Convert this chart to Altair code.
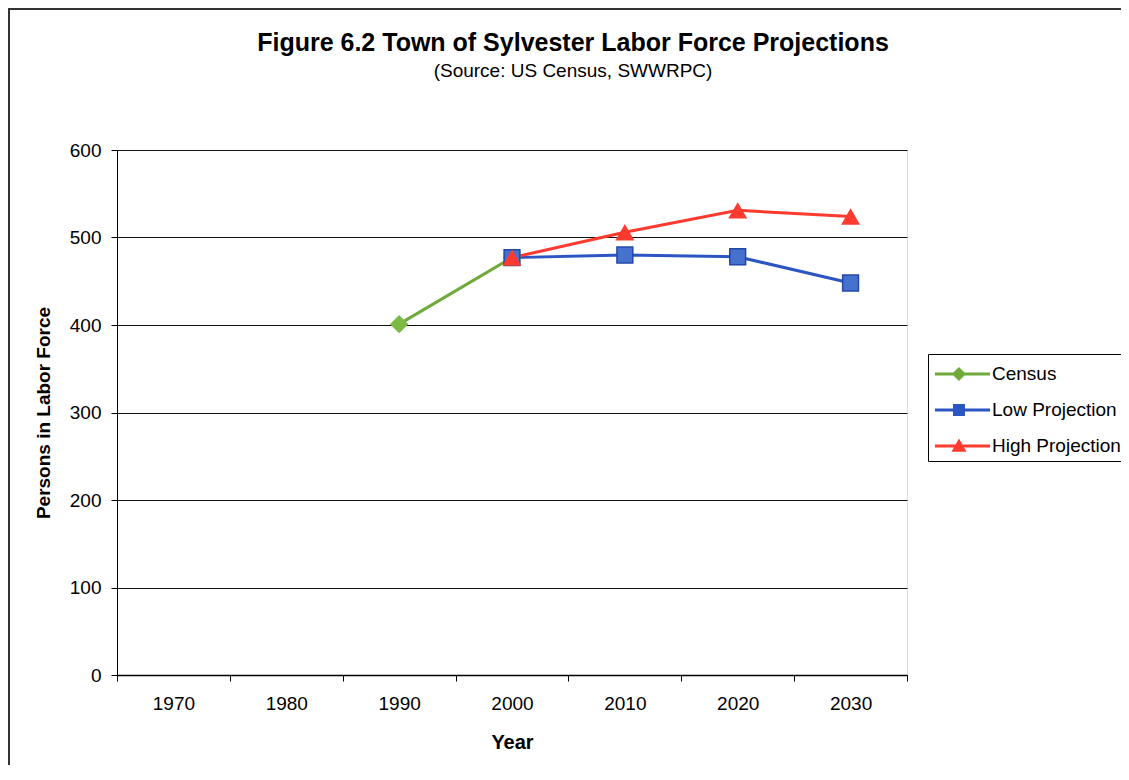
import altair as alt
import pandas as pd

years = ["1970", "1980", "1990", "2000", "2010", "2020", "2030"]
census_years = ["1990", "2000"]
census_values = [401, 477]
low_years = ["2000", "2010", "2020", "2030"]
low_values = [477, 480, 478, 448]
high_years = ["2000", "2010", "2020", "2030"]
high_values = [477, 506, 531, 524]
series_names = ["Census", "Low Projection", "High Projection"]
series_colors = ["#6FAA3A", "#2B55C2", "#FF3A2E"]
y_ticks = [0, 100, 200, 300, 400, 500, 600]

rows = []
for name, ys, vs in zip(series_names, [census_years, low_years, high_years],
                        [census_values, low_values, high_values]):
    for yr, v in zip(ys, vs):
        rows.append({"Year": yr, "Value": v, "Series": name})
df = pd.DataFrame(rows)

FONT = "Liberation Sans"
W, H = 790, 525

x_enc = alt.X("Year:O",
              scale=alt.Scale(type="band", domain=years, paddingInner=0, paddingOuter=0),
              axis=alt.Axis(title="Year", labelAngle=0, tickBand="extent", tickSize=6,
                            tickColor="black", domainColor="black", domainWidth=1.5,
                            labelFont=FONT, labelFontSize=19, labelColor="black",
                            labelPadding=13, titleFont=FONT, titleFontSize=20,
                            titleFontWeight="bold", titleColor="black", titlePadding=19,
                            grid=False))
y_enc = alt.Y("Value:Q",
              scale=alt.Scale(domain=[0, 600], nice=False),
              axis=alt.Axis(title="Persons in Labor Force", values=y_ticks, grid=True,
                            gridColor="#111111", gridWidth=1, tickSize=6, tickColor="black",
                            domainColor="black", labelFont=FONT, labelFontSize=19,
                            labelColor="black", labelPadding=10, titleFont=FONT,
                            titleFontSize=19, titleFontWeight="bold", titleColor="black",
                            titlePadding=16))

base = alt.Chart(df)

layers = []
# outer frame decoration
frame = alt.Chart(pd.DataFrame({"a": [0]})).mark_rect(
    fill=None, stroke="#333333", strokeWidth=2, clip=False
).encode(x=alt.value(-108), x2=alt.value(W + 260), y=alt.value(-141), y2=alt.value(H + 200))
layers.append(frame)

for name, col in zip(series_names, series_colors):
    layers.append(base.transform_filter(alt.datum.Series == name)
                  .mark_line(strokeWidth=3, color=col).encode(x=x_enc, y=y_enc))

layers.append(base.transform_filter(alt.datum.Series == "Census")
              .mark_point(shape="diamond", filled=True, size=340, color="#7DBA44", opacity=1)
              .encode(x=x_enc, y=y_enc))
layers.append(base.transform_filter(alt.datum.Series == "Low Projection")
              .mark_point(shape="square", filled=True, size=250, fill="#4671CC",
                          stroke="#2347A8", strokeWidth=1.5, opacity=1)
              .encode(x=x_enc, y=y_enc))
layers.append(base.transform_filter(alt.datum.Series == "High Projection")
              .mark_point(shape="triangle-up", filled=True, size=360, color="#FF3A2E", opacity=1)
              .encode(x=x_enc, y=y_enc))

line_path = "M-0.87,-0.1H2.8V0.1H-0.87Z"
legend_paths = [
    line_path + " M0.73,-0.47L1.2,0L0.73,0.47L0.26,0Z",
    line_path + " M0.33,-0.4H1.13V0.4H0.33Z",
    line_path + " M0.73,-0.5L1.23,0.38H0.23Z",
]
leg = alt.Legend(title=None, orient="none", legendX=811, legendY=204,
                 strokeColor="black", padding=5, fillColor="white",
                 symbolSize=900, symbolStrokeWidth=0, symbolOpacity=1,
                 labelFont=FONT, labelFontSize=19, labelColor="black",
                 labelOffset=29, rowPadding=11, labelLimit=300)
legend_layer = base.mark_point(filled=True, opacity=0).encode(
    x=x_enc, y=y_enc,
    color=alt.Color("Series:N", scale=alt.Scale(domain=series_names, range=series_colors),
                    legend=leg),
    shape=alt.Shape("Series:N", scale=alt.Scale(domain=series_names, range=legend_paths),
                    legend=leg),
)
layers.append(legend_layer)

chart = alt.layer(*layers).properties(
    width=W, height=H,
    title=alt.TitleParams(
        text="Figure 6.2 Town of Sylvester Labor Force Projections",
        subtitle="(Source: US Census, SWWRPC)",
        font=FONT, fontSize=25, fontWeight="bold", color="black",
        subtitleFont=FONT, subtitleFontSize=19, subtitleColor="black",
        subtitlePadding=6, anchor="middle", dx=61, offset=-73,
    ),
    autosize=alt.AutoSizeParams(type="none"),
    padding={"left": 109, "top": 142, "right": 214, "bottom": 90},
).configure_view(stroke="black", strokeWidth=1).configure(background="white")

chart.save("out.html", embed_options={"renderer": "svg", "actions": False})
